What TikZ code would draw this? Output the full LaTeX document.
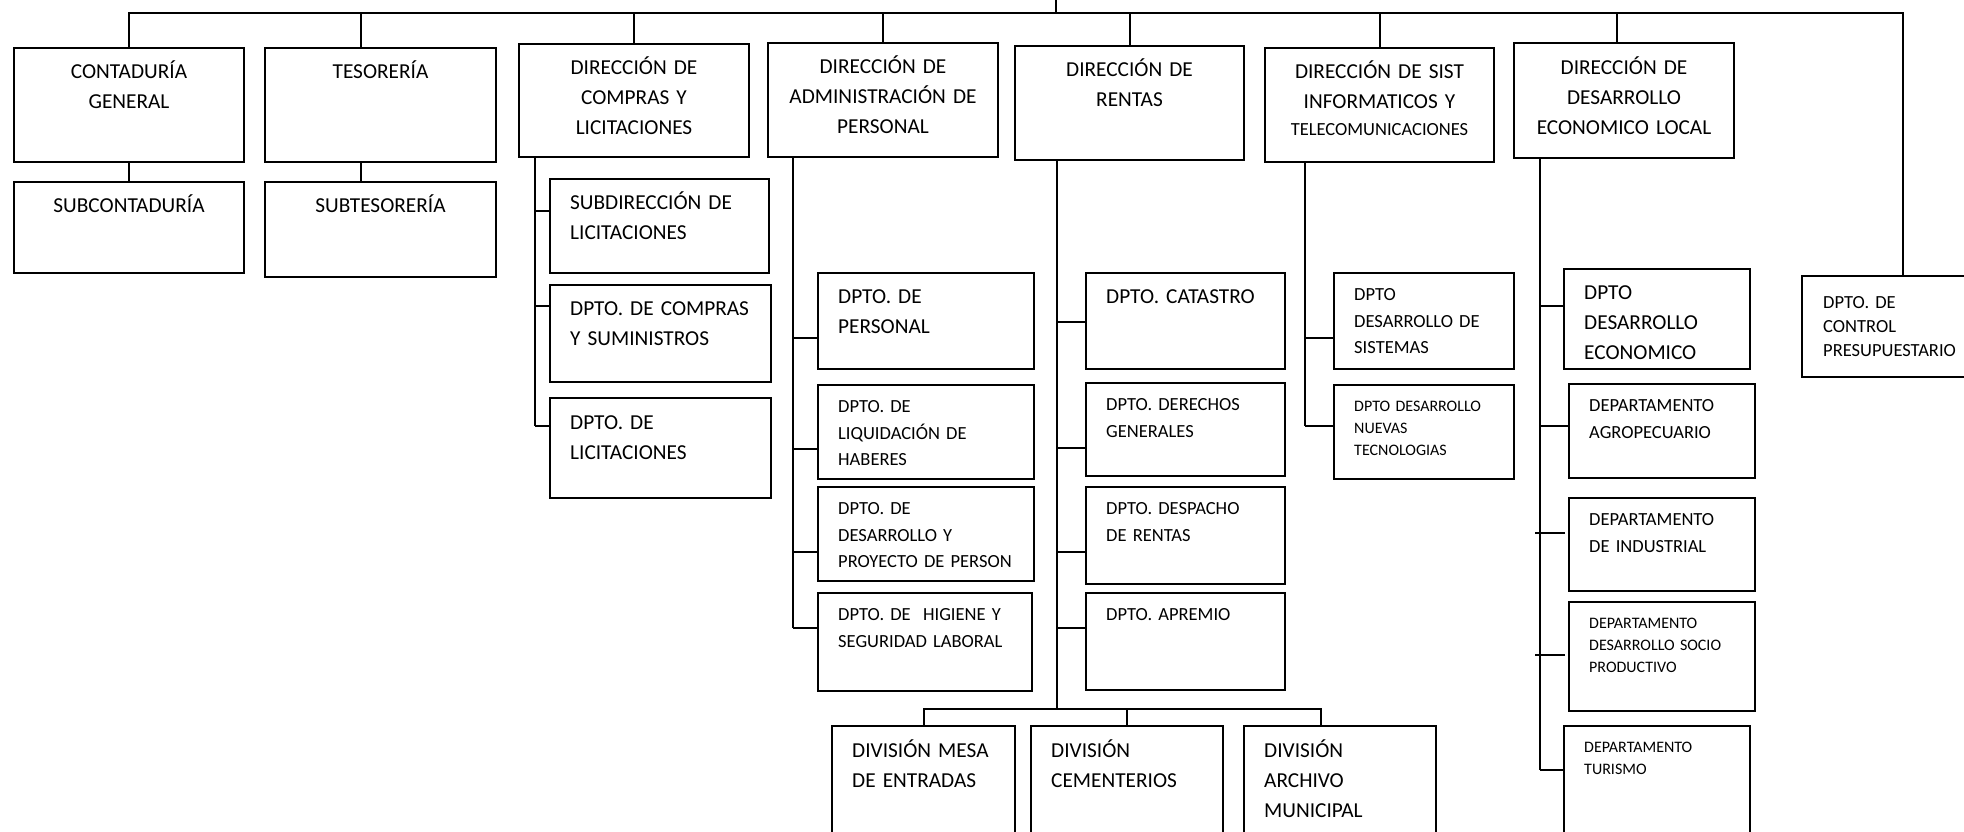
\documentclass[tikz,border=0pt]{standalone}
\usepackage{fontspec}
\setmainfont{Carlito}
\newcommand\fnorm{\fontsize{21.3}{30}\selectfont}
\newcommand\fmed{\fontsize{18.5}{26.5}\selectfont}
\newcommand\fsml{\fontsize{16}{22}\selectfont}
\tikzset{
  unit/.style={draw, line width=2pt, inner sep=0pt, anchor=north west},
  link/.style={line width=2pt},
  hd/.style={anchor=north, align=center, text width=220, inner sep=0pt, font=\fnorm,
    execute at begin node=\strut, yshift=-10},
  dp/.style={anchor=north west, align=left, text width=190, inner sep=0pt, font=\fnorm,
    execute at begin node=\strut, xshift=21, yshift=-10.5},
  dpm/.style={dp, font=\fmed, yshift=0.5},
  dps/.style={dp, font=\fsml, yshift=-1},
}
\begin{document}
\begin{tikzpicture}[x=1pt,y=-1pt]
\useasboundingbox (0,0) rectangle (1964,832);

% direcciones (first row)
\node[unit, minimum width=230, minimum height=114, label={[hd]north:{CONTADURÍA\\GENERAL}}] (contGen) at (13,47) {};
\node[unit, minimum width=231, minimum height=114, label={[hd]north:{TESORERÍA}}] (tesoreria) at (264,47) {};
\node[unit, minimum width=230, minimum height=113, label={[hd]north:{DIRECCIÓN DE\\COMPRAS Y\\LICITACIONES}}] (dirCompras) at (518,43) {};
\node[unit, minimum width=230, minimum height=114, label={[hd]north:{DIRECCIÓN DE\\ADMINISTRACIÓN DE\\PERSONAL}}] (dirPersonal) at (767,42) {};
\node[unit, minimum width=229, minimum height=114, label={[hd]north:{DIRECCIÓN DE\\RENTAS}}] (dirRentas) at (1014,45) {};
\node[unit, minimum width=229, minimum height=114, label={[hd]north:{DIRECCIÓN DE SIST\\INFORMATICOS Y\\[-3pt]{\fmed TELECOMUNICACIONES}}}] (dirSist) at (1264,47) {};
\node[unit, minimum width=220, minimum height=115, label={[hd, yshift=-1]north:{DIRECCIÓN DE\\DESARROLLO\\ECONOMICO LOCAL}}] (dirDesLocal) at (1513,42) {};
\node[unit, minimum width=190, minimum height=101, label={[dpm, font=\fontsize{18.5}{24}\selectfont, xshift=1, yshift=-6]north west:{DPTO. DE\\CONTROL\\PRESUPUESTARIO}}] (ctrlPres) at (1801,275) {};

% sub units
\node[unit, minimum width=230, minimum height=91, label={[hd]north:{SUBCONTADURÍA}}] (subCont) at (13,181) {};
\node[unit, minimum width=231, minimum height=95, label={[hd]north:{SUBTESORERÍA}}] (subTes) at (264,181) {};

% compras y licitaciones
\node[unit, minimum width=219, minimum height=94, label={[dp]north west:{SUBDIRECCIÓN DE\\LICITACIONES}}] (subdirLic) at (549,178) {};
\node[unit, minimum width=221, minimum height=97, label={[dp]north west:{DPTO. DE COMPRAS\\Y SUMINISTROS}}] (dptoCompras) at (549,284) {};
\node[unit, minimum width=221, minimum height=100, label={[dp, yshift=-1]north west:{DPTO. DE\\LICITACIONES}}] (dptoLic) at (549,397) {};

% administracion de personal
\node[unit, minimum width=216, minimum height=96, label={[dp]north west:{DPTO. DE\\PERSONAL}}] (dptoPers) at (817,272) {};
\node[unit, minimum width=216, minimum height=94, label={[dpm]north west:{DPTO. DE\\LIQUIDACIÓN DE\\HABERES}}] (dptoLiq) at (817,384) {};
\node[unit, minimum width=216, minimum height=94, label={[dpm]north west:{DPTO. DE\\DESARROLLO Y\\PROYECTO DE PERSON}}] (dptoDesPers) at (817,486) {};
\node[unit, minimum width=214, minimum height=98, label={[dpm]north west:{DPTO. DE~ HIGIENE Y\\SEGURIDAD LABORAL}}] (dptoHig) at (817,592) {};

% rentas
\node[unit, minimum width=199, minimum height=96, label={[dp]north west:{DPTO. CATASTRO}}] (catastro) at (1085,272) {};
\node[unit, minimum width=199, minimum height=93, label={[dpm]north west:{DPTO. DERECHOS\\GENERALES}}] (derechos) at (1085,382) {};
\node[unit, minimum width=199, minimum height=97, label={[dpm]north west:{DPTO. DESPACHO\\DE RENTAS}}] (despacho) at (1085,486) {};
\node[unit, minimum width=199, minimum height=97, label={[dpm]north west:{DPTO. APREMIO}}] (apremio) at (1085,592) {};

% sistemas
\node[unit, minimum width=180, minimum height=96, label={[dpm]north west:{DPTO\\DESARROLLO DE\\SISTEMAS}}] (desSist) at (1333,272) {};
\node[unit, minimum width=180, minimum height=94, label={[dps]north west:{DPTO DESARROLLO\\NUEVAS\\TECNOLOGIAS}}] (nuevasTec) at (1333,384) {};

% desarrollo economico local
\node[unit, minimum width=186, minimum height=100, label={[dp]north west:{DPTO\\DESARROLLO\\ECONOMICO}}] (desEcon) at (1563,268) {};
\node[unit, minimum width=186, minimum height=94, label={[dpm]north west:{DEPARTAMENTO\\AGROPECUARIO}}] (agro) at (1568,383) {};
\node[unit, minimum width=186, minimum height=93, label={[dpm]north west:{DEPARTAMENTO\\DE INDUSTRIAL}}] (indus) at (1568,497) {};
\node[unit, minimum width=186, minimum height=109, label={[dps]north west:{DEPARTAMENTO\\DESARROLLO SOCIO\\PRODUCTIVO}}] (socio) at (1568,601) {};
\node[unit, minimum width=186, minimum height=125, label={[dps]north west:{DEPARTAMENTO\\TURISMO}}] (turismo) at (1563,725) {};

% divisiones
\node[unit, minimum width=183, minimum height=125, label={[dp, yshift=-1]north west:{DIVISIÓN MESA\\DE ENTRADAS}}] (divMesa) at (831,725) {};
\node[unit, minimum width=192, minimum height=125, label={[dp, yshift=-1]north west:{DIVISIÓN\\CEMENTERIOS}}] (divCem) at (1030,725) {};
\node[unit, minimum width=192, minimum height=125, label={[dp, yshift=-1]north west:{DIVISIÓN\\ARCHIVO\\MUNICIPAL}}] (divArch) at (1243,725) {};

% top bus
\coordinate (root) at (1056,0);
\coordinate (busEnd) at (1903,13);
\coordinate (tesTop) at ([xshift=-20]tesoreria.north);
\coordinate (tesBot) at ([xshift=-20]tesoreria.south);
\coordinate (locTop) at ([xshift=-7]dirDesLocal.north);
\draw[link] (root) -- (root |- busEnd);
\draw[link] (contGen.north) |- (busEnd) -- (busEnd |- ctrlPres.north);
\foreach \n in {dirCompras,dirPersonal,dirRentas,dirSist}
  \draw[link] (\n.north) -- (\n.north |- busEnd);
\draw[link] (tesTop) -- (tesTop |- busEnd);
\draw[link] (locTop) -- (locTop |- busEnd);
\draw[link] (contGen.south) -- (subCont.north);
\draw[link] (tesBot) -- (tesBot |- subTes.north);

% side spines
\coordinate (cmpS) at ([xshift=17]dirCompras.south west);
\coordinate (perS) at ([xshift=26]dirPersonal.south west);
\coordinate (rntS) at ([xshift=43]dirRentas.south west);
\coordinate (sisS) at ([xshift=41]dirSist.south west);
\coordinate (locS) at ([xshift=27]dirDesLocal.south west);
\foreach \n/\d/\s in {subdirLic/33/cmpS, dptoCompras/22/cmpS, dptoLic/29/cmpS,
    dptoPers/66/perS, dptoLiq/65/perS, dptoDesPers/66/perS, dptoHig/36/perS,
    catastro/50/rntS, derechos/66/rntS, despacho/66/rntS, apremio/36/rntS,
    desSist/66/sisS, nuevasTec/42/sisS,
    desEcon/38/locS, agro/43/locS, turismo/45/locS} {
  \coordinate (in\n) at ([shift={(0,\d)}]\n.north west);
  \draw[link] (in\n) -- (in\n -| \s);
}
\draw[link] (cmpS) -- (cmpS |- indptoLic);
\draw[link] (perS) -- (perS |- indptoHig);
\draw[link] (sisS) -- (sisS |- innuevasTec);
\draw[link] (locS) -- (locS |- inturismo);
\draw[link] ([shift={(-3,36)}]indus.north west) -- ([shift={(-33,36)}]indus.north west);
\draw[link] ([shift={(-3,54)}]socio.north west) -- ([shift={(-33,54)}]socio.north west);

% divisiones bus
\coordinate (divBus) at ([shift={(0,-16)}]divMesa.north);
\coordinate (archTop) at ([xshift=-19]divArch.north);
\draw[link] (rntS) -- (rntS |- divBus);
\draw[link] (divMesa.north) -- (divBus) -| (archTop);
\draw[link] (divCem.north) -- (divCem.north |- divBus);
\end{tikzpicture}
\end{document}
